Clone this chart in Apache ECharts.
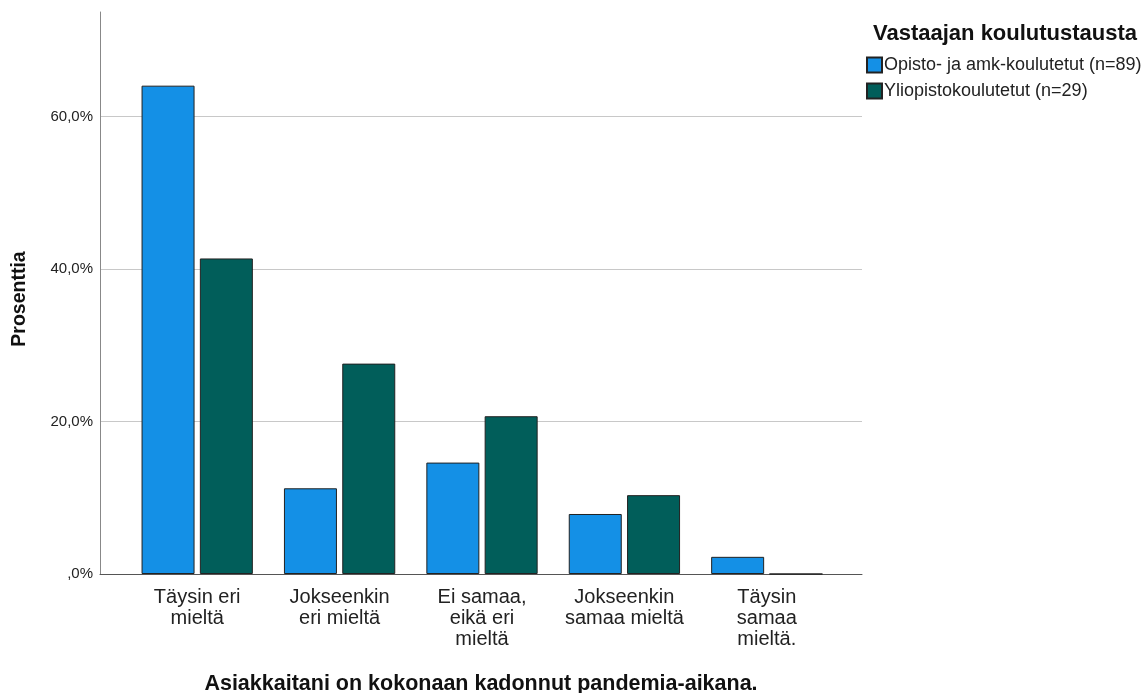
<!DOCTYPE html>
<html>
<head>
<meta charset="utf-8">
<script src="https://cdn.jsdelivr.net/npm/echarts@6/dist/echarts.min.js"></script>
<style>
html,body{margin:0;padding:0;background:#fff;}
#chart{width:1145px;height:693px;}
</style>
</head>
<body>
<div id="chart"></div>
<script>
var categories = ["Täysin eri\nmieltä", "Jokseenkin\neri mieltä", "Ei samaa,\neikä eri\nmieltä", "Jokseenkin\nsamaa mieltä", "Täysin\nsamaa\nmieltä."];
var seriesNames = ["Opisto- ja amk-koulutetut (n=89)", "Yliopistokoulutetut (n=29)"];
var opistoValues = [64.04, 11.24, 14.61, 7.87, 2.25];
var yliopistoValues = [41.38, 27.59, 20.69, 10.34, 0];
var yMax = 73.7;
var yInterval = 20;
var legendTitle = "Vastaajan koulutustausta";
var xTitle = "Asiakkaitani on kokonaan kadonnut pandemia-aikana.";
var yTitle = "Prosenttia";

var font = "'Liberation Sans', Arial, sans-serif";
var chart = echarts.init(document.getElementById('chart'));
chart.setOption({
  animation: false,
  textStyle: {fontFamily: font},
  title: {
    text: legendTitle,
    left: 868, top: 18,
    textStyle: {fontSize: 22, fontWeight: 'bold', color: '#111', fontFamily: font}
  },
  legend: {
    orient: 'vertical',
    left: 861, top: 51,
    itemWidth: 15, itemHeight: 15,
    itemGap: 8,
    icon: 'rect',
    textStyle: {fontSize: 18, lineHeight: 16, color: '#222', padding: [0,0,0,-3], fontFamily: font},
    data: seriesNames
  },
  grid: [
    {left: 100, right: 283, top: 12, bottom: 119, containLabel: false, outerBoundsMode: 'none'},
    {left: 126, right: 307, top: 12, bottom: 119, containLabel: false, outerBoundsMode: 'none'}
  ],
  xAxis: [
    {
      gridIndex: 0, type: 'value', min: 0, max: 1,
      axisLine: {show: true, onZero: false, lineStyle: {color: '#555', width: 1}},
      axisTick: {show: false}, axisLabel: {show: false}, splitLine: {show: false},
      name: xTitle, nameLocation: 'middle', nameGap: 99,
      nameTextStyle: {fontSize: 21.5, fontWeight: 'bold', color: '#111'}
    },
    {
      gridIndex: 1, type: 'category', data: categories,
      axisLine: {show: false}, axisTick: {show: false},
      axisLabel: {fontSize: 20, color: '#222', lineHeight: 21, margin: 13, interval: 0}
    }
  ],
  yAxis: [
    {
      gridIndex: 0, type: 'value',
      min: 0, max: yMax, interval: yInterval,
      axisLine: {show: true, lineStyle: {color: '#888'}},
      axisTick: {show: false},
      splitLine: {showMaxLine: false, lineStyle: {color: '#c8c8c8', width: 1}},
      axisLabel: {
        fontSize: 15, color: '#222', margin: 7, showMaxLabel: false,
        formatter: function(v){ if (v === 0) return ',0%'; return v.toFixed(1).replace('.', ',') + '%'; }
      },
      name: yTitle, nameLocation: 'middle', nameGap: 70, nameRotate: 90,
      nameTextStyle: {fontSize: 19.5, fontWeight: 'bold', color: '#111', padding: [0, 12, 0, 0]}
    },
    {
      gridIndex: 1, type: 'value', min: 0, max: yMax, interval: yInterval, show: false
    }
  ],
  series: [
    {
      name: seriesNames[0], type: 'bar', data: opistoValues,
      xAxisIndex: 1, yAxisIndex: 1,
      barWidth: 53, barGap: '10%',
      itemStyle: {color: '#1490E6', borderColor: '#222', borderWidth: 1}
    },
    {
      name: seriesNames[1], type: 'bar', data: yliopistoValues,
      xAxisIndex: 1, yAxisIndex: 1,
      barWidth: 53, barGap: '10%',
      itemStyle: {color: '#015E5A', borderColor: '#222', borderWidth: 1}
    }
  ]
});
</script>
</body>
</html>
